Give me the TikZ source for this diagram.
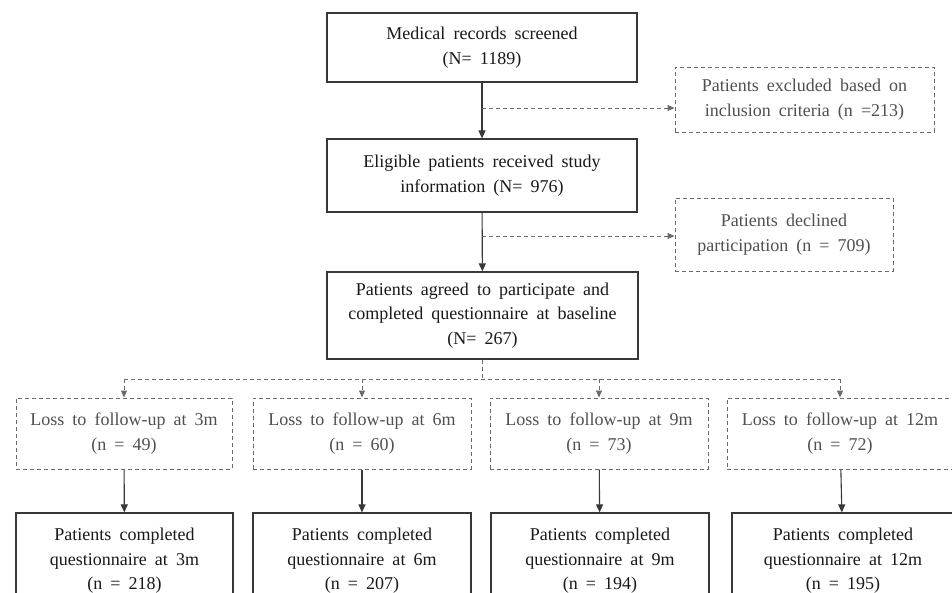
\documentclass[tikz,border=0pt]{standalone}
\usepackage{fontspec}
\setmainfont{Liberation Serif}[WordSpace=1.8]
\usetikzlibrary{arrows.meta}
\definecolor{boxline}{HTML}{383838}
\definecolor{dashline}{HTML}{6A6A6A}
\definecolor{dashtext}{HTML}{505050}

\begin{document}
\begin{tikzpicture}[x=1pt, y=-1pt,
    every node/.style={font=\fontsize{18}{24.5}\selectfont, align=center, inner sep=0pt},
    mainbox/.style={draw=boxline, line width=1.2pt, rectangle, text=black!90},
    dashbox/.style={draw=dashline, line width=1pt, dash pattern=on 4pt off 3pt, rectangle, text=dashtext},
    solidarrow/.style={draw=boxline, line width=1.1pt, -{Triangle[length=8pt, width=7pt]}},
    dashlink/.style={draw=dashline, line width=1pt, dash pattern=on 4pt off 3pt},
    dasharrow/.style={dashlink, -{Triangle[length=7pt, width=6pt]}}]
    \useasboundingbox (0,0) rectangle (952,592);
    \fill[white] (0,0) rectangle (952,592);
    \clip (0,0) rectangle (952,592);

    % Main flow
    \node[mainbox, minimum width=310pt, minimum height=69pt] (records) at (482, 47.5) {Medical records screened\\(N= 1189)};
    \node[mainbox, minimum width=310pt, minimum height=73pt] (eligible) at (482, 175.5) {Eligible patients received study\\information (N= 976)};
    \node[mainbox, minimum width=311pt, minimum height=87pt] (baseline) at (482.5, 315.5) {Patients agreed to participate and\\completed questionnaire at baseline\\(N= 267)};

    % Exclusions
    \node[dashbox, minimum width=259pt, minimum height=65pt] (excluded) at (804.5, 99.5) {Patients excluded based on\\inclusion criteria (n =213)};
    \node[dashbox, minimum width=218pt, minimum height=73pt] (declined) at (784, 234.5) {Patients declined\\participation (n = 709)};

    \draw[solidarrow] (records) -- (eligible);
    \draw[solidarrow] (eligible) -- (baseline);
    \coordinate (split1) at (482, 108);
    \coordinate (split2) at (482, 236);
    \draw[dasharrow] (split1) -- (split1 -| excluded.west);
    \draw[dasharrow] (split2) -- (split2 -| declined.west);

    % Loss to follow-up
    \node[dashbox, minimum width=216pt, minimum height=71pt] (loss3) at (124, 433.5) {Loss to follow-up at 3m\\(n = 49)};
    \node[dashbox, minimum width=218pt, minimum height=71pt] (loss6) at (362, 433.5) {Loss to follow-up at 6m\\(n = 60)};
    \node[dashbox, minimum width=218pt, minimum height=71pt] (loss9) at (599, 433.5) {Loss to follow-up at 9m\\(n = 73)};
    \node[dashbox, minimum width=226pt, minimum height=71pt] (loss12) at (840, 433.5) {Loss to follow-up at 12m\\(n = 72)};

    \coordinate (fan) at (482.5, 379);
    \draw[dashlink] (baseline.south) -- (fan);
    \draw[dashlink] (loss3.north |- fan) -- (loss12.north |- fan);
    \draw[dasharrow] (loss3.north |- fan) -- (loss3.north);
    \draw[dasharrow] (loss6.north |- fan) -- (loss6.north);
    \draw[dasharrow] (loss9.north |- fan) -- (loss9.north);
    \draw[dasharrow] (loss12.north |- fan) -- (loss12.north);

    % Completed questionnaires
    \node[mainbox, minimum width=217pt, minimum height=96pt] (done3) at (124.5, 561) {Patients completed\\questionnaire at 3m\\(n = 218)};
    \node[mainbox, minimum width=218pt, minimum height=96pt] (done6) at (362, 561) {Patients completed\\questionnaire at 6m\\(n = 207)};
    \node[mainbox, minimum width=218pt, minimum height=96pt] (done9) at (600, 561) {Patients completed\\questionnaire at 9m\\(n = 194)};
    \node[mainbox, minimum width=222pt, minimum height=96pt] (done12) at (843, 561) {Patients completed\\questionnaire at 12m\\(n = 195)};

    \draw[solidarrow] (loss3) -- (done3);
    \draw[solidarrow] (loss6) -- (done6);
    \draw[solidarrow] (loss9) -- (done9);
    \draw[solidarrow] (loss12) -- (done12);
\end{tikzpicture}
\end{document}
